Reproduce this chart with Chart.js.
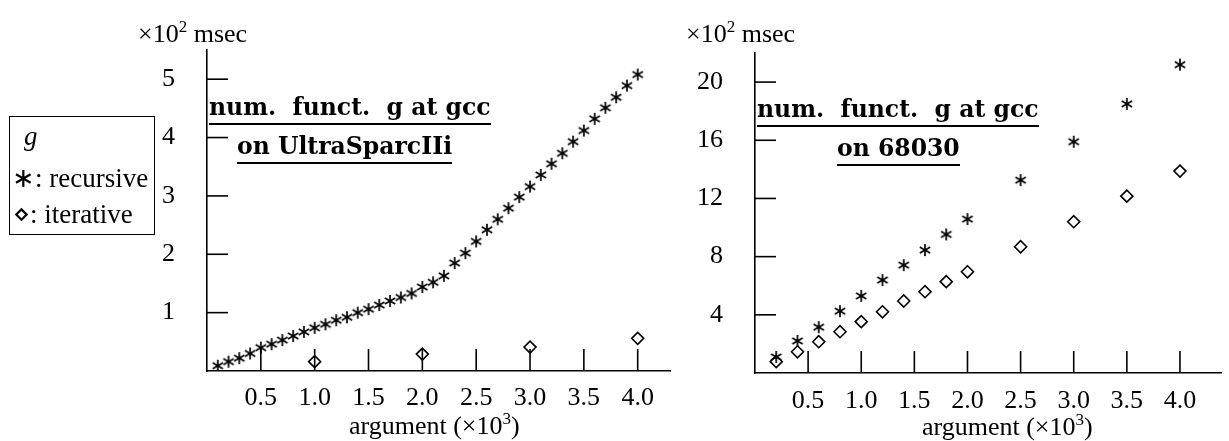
<!DOCTYPE html>
<html>
<head>
<meta charset="utf-8">
<script src="https://cdn.jsdelivr.net/npm/chart.js@4"></script>
<style>
  body { margin: 0; background: #fff; width: 1229px; height: 441px; position: relative; overflow: hidden; }
  .wrap { position: absolute; top: 0; height: 441px; }
  .txt { position: absolute; font: 26px 'Liberation Serif', serif; line-height: 30px; color: #000; white-space: pre; }
  .txt sup { font-size: 17px; line-height: 0; vertical-align: 10px; }
  .ttl { position: absolute; font: bold 23.5px 'DejaVu Serif', serif; line-height: 24px; color: #000; white-space: pre; }
  .ttl span { display: inline-block; padding-bottom: 4px; border-bottom: 2px solid #000; }
  #legend { position: absolute; left: 9px; top: 116px; width: 144px; height: 117px; border: 1.5px solid #000; }
  #legend div { position: absolute; font: 27px 'Liberation Serif', serif; line-height: 30px; white-space: pre; }
</style>
</head>
<body>
<div class="wrap" style="left:100px;width:590px"><canvas id="left" width="590" height="441"></canvas></div>
<div class="wrap" style="left:650px;width:579px"><canvas id="right" width="579" height="441"></canvas></div>

<div class="txt" style="left:138px;top:19px">×10<sup>2</sup> msec</div>
<div class="txt" style="left:686px;top:19px">×10<sup>2</sup> msec</div>
<div class="txt" style="left:349px;top:411px">argument (×10<sup>3</sup>)</div>
<div class="txt" style="left:922px;top:412px">argument (×10<sup>3</sup>)</div>

<div class="ttl" style="left:209px;top:95px"><span>num.  funct.  g at gcc</span></div>
<div class="ttl" style="left:237px;top:134px"><span>on UltraSparcIIi</span></div>
<div class="ttl" style="left:757px;top:97px"><span>num.  funct.  g at gcc</span></div>
<div class="ttl" style="left:837px;top:136px"><span>on 68030</span></div>

<div id="legend">
  <div style="left:14px;top:4px;font-style:italic">g</div>
  <div style="left:2px;top:46px">∗: recursive</div>
  <div style="left:3px;top:82px">⋄: iterative</div>
</div>

<script>
// UltraSparcIIi, argument in 10^3, time in 10^2 msec
const sparcArgs = [0.1, 0.2, 0.3, 0.4, 0.5, 0.6, 0.7, 0.8, 0.9, 1.0,
  1.1, 1.2, 1.3, 1.4, 1.5, 1.6, 1.7, 1.8, 1.9, 2.0,
  2.1, 2.2, 2.3, 2.4, 2.5, 2.6, 2.7, 2.8, 2.9, 3.0,
  3.1, 3.2, 3.3, 3.4, 3.5, 3.6, 3.7, 3.8, 3.9, 4.0];
const sparcRecursive = [0.09, 0.16, 0.22, 0.30, 0.40, 0.46, 0.53, 0.60, 0.67, 0.74,
  0.80, 0.87, 0.92, 1.00, 1.06, 1.13, 1.20, 1.26, 1.33, 1.44,
  1.52, 1.63, 1.85, 2.02, 2.22, 2.42, 2.60, 2.79, 2.98, 3.16,
  3.36, 3.55, 3.73, 3.93, 4.12, 4.32, 4.51, 4.69, 4.89, 5.08];
const sparcIterArgs = [1.0, 2.0, 3.0, 4.0];
const sparcIterative = [0.16, 0.29, 0.41, 0.56];

// 68030
const m68Args = [0.2, 0.4, 0.6, 0.8, 1.0, 1.2, 1.4, 1.6, 1.8, 2.0, 2.5, 3.0, 3.5, 4.0];
const m68Recursive = [1.1, 2.2, 3.15, 4.25, 5.3, 6.39, 7.42, 8.45, 9.53, 10.58, 13.26, 15.9, 18.5, 21.2];
const m68Iterative = [0.78, 1.46, 2.15, 2.84, 3.53, 4.21, 4.95, 5.59, 6.28, 6.96, 8.68, 10.4, 12.16, 13.88];

const serif = { family: 'Liberation Serif', size: 26 };

// TeX-like six armed asterisk
function asterisk(r, w) {
  const c = document.createElement('canvas');
  const s = Math.ceil(2 * r + 2 * w);
  c.width = c.height = s;
  const g = c.getContext('2d');
  g.strokeStyle = '#000';
  g.lineWidth = w;
  for (let k = 0; k < 3; k++) {
    const a = Math.PI / 2 + k * Math.PI / 3;
    g.beginPath();
    g.moveTo(s / 2 + r * Math.cos(a), s / 2 + r * Math.sin(a));
    g.lineTo(s / 2 - r * Math.cos(a), s / 2 - r * Math.sin(a));
    g.stroke();
  }
  return c;
}
const star = asterisk(6, 1.7);

// tick marks pointing into the plot
const inwardTicks = {
  id: 'inwardTicks',
  afterDatasetsDraw(chart) {
    const { ctx, chartArea, scales: { x, y } } = chart;
    ctx.save();
    ctx.strokeStyle = '#000';
    ctx.lineWidth = 1.6;
    x.ticks.forEach(t => {
      if (t.value === 0) return;
      const px = x.getPixelForValue(t.value);
      ctx.beginPath();
      ctx.moveTo(px, chartArea.bottom);
      ctx.lineTo(px, chartArea.bottom - 22);
      ctx.stroke();
    });
    y.ticks.forEach(t => {
      if (t.value === 0) return;
      const py = y.getPixelForValue(t.value);
      ctx.beginPath();
      ctx.moveTo(chartArea.left, py);
      ctx.lineTo(chartArea.left + 21, py);
      ctx.stroke();
    });
    ctx.restore();
  }
};

function pts(xs, ys) {
  return xs.map((v, i) => ({ x: v, y: ys[i] }));
}

function makeChart(id, cfg) {
  return new Chart(document.getElementById(id), {
    type: 'scatter',
    data: {
      datasets: [
        { label: 'recursive', data: cfg.rec, pointStyle: star, pointRadius: 6 },
        { label: 'iterative', data: cfg.iter, pointStyle: 'rectRot', pointRadius: 6,
          borderColor: '#000', backgroundColor: '#fff', borderWidth: 1.6 }
      ]
    },
    options: {
      responsive: false,
      animation: false,
      events: [],
      layout: { padding: cfg.padding },
      plugins: { legend: { display: false }, tooltip: { enabled: false } },
      scales: {
        x: {
          type: 'linear', min: 0, max: cfg.xMax,
          afterFit: s => { s.height = cfg.xHeight; },
          border: { color: '#000', width: 1.6 },
          grid: { display: false, drawTicks: false },
          ticks: {
            stepSize: 0.5, includeBounds: false, padding: cfg.xPad, color: '#000', font: serif,
            maxRotation: 0, autoSkip: false,
            callback: v => v === 0 ? '' : v.toFixed(1)
          }
        },
        y: {
          min: 0, max: cfg.yMax,
          afterFit: s => { s.width = cfg.yWidth; },
          border: { color: '#000', width: 1.6 },
          grid: { display: false, drawTicks: false },
          ticks: {
            stepSize: cfg.yStep, includeBounds: false, padding: 32, color: '#000', font: serif,
            callback: v => v === 0 ? '' : String(v)
          }
        }
      }
    },
    plugins: [inwardTicks]
  });
}

makeChart('left', {
  rec: pts(sparcArgs, sparcRecursive),
  iter: pts(sparcIterArgs, sparcIterative),
  padding: { top: 50, right: 20, left: 0, bottom: 0 },
  xMax: 4.3, xHeight: 70, xPad: 12,
  yMax: 5.5, yStep: 1, yWidth: 107
});

makeChart('right', {
  rec: pts(m68Args, m68Recursive),
  iter: pts(m68Args, m68Iterative),
  padding: { top: 53, right: 0, left: 0, bottom: 0 },
  xMax: 4.39, xHeight: 68, xPad: 13,
  yMax: 22, yStep: 4, yWidth: 105
});
</script>
</body>
</html>
